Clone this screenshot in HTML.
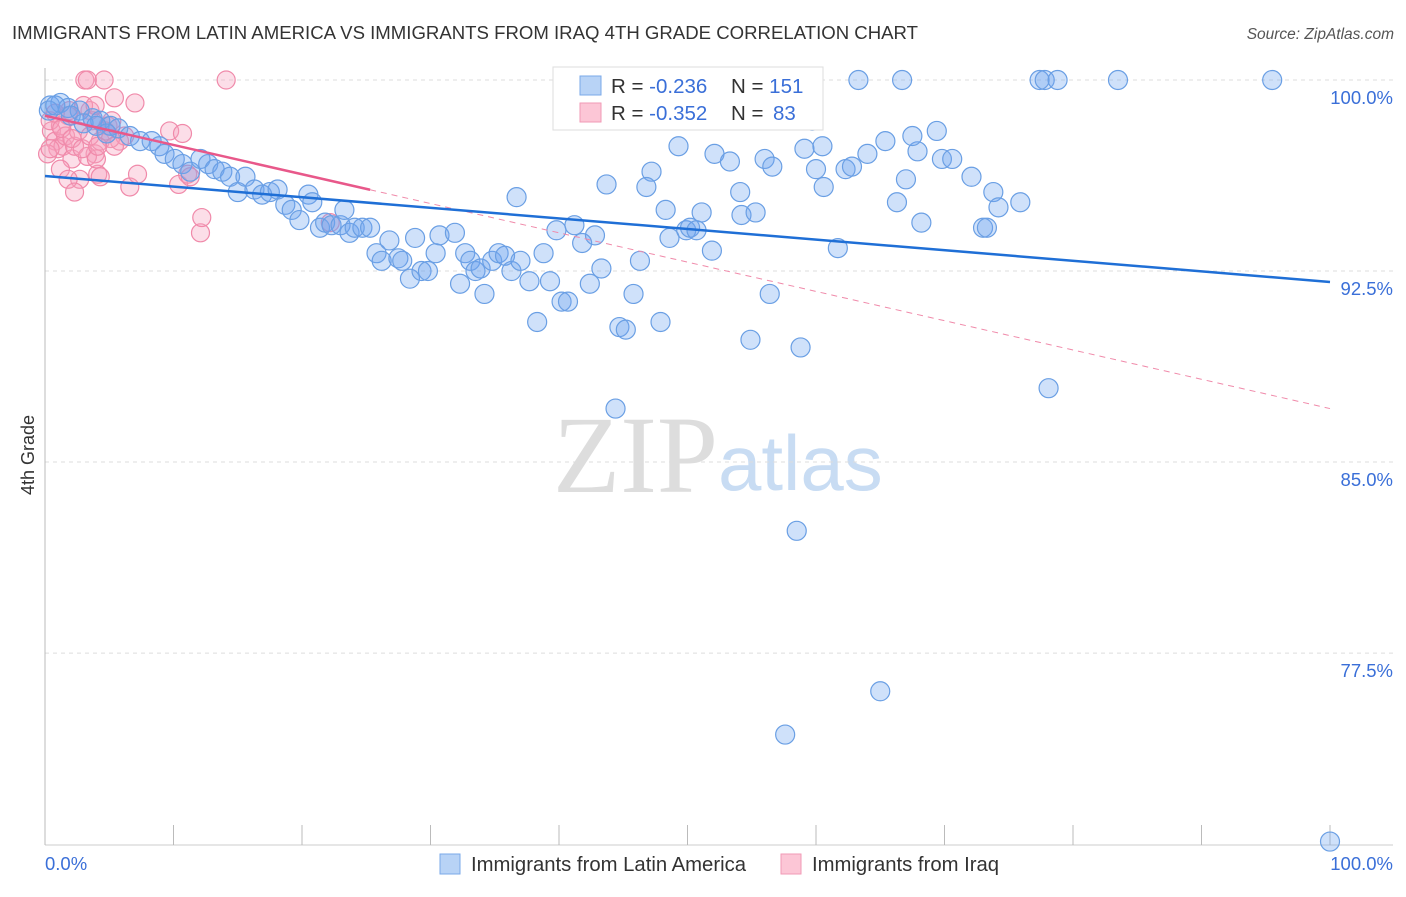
<!DOCTYPE html>
<html><head><meta charset="utf-8"><style>
body{margin:0;background:#fff;font-family:"Liberation Sans",sans-serif;}
</style></head><body>
<svg width="1406" height="892" xmlns="http://www.w3.org/2000/svg" style="font-family:'Liberation Sans',sans-serif">
<text x="12" y="39" font-size="18.6" fill="#333">IMMIGRANTS FROM LATIN AMERICA VS IMMIGRANTS FROM IRAQ 4TH GRADE CORRELATION CHART</text>
<text x="1394" y="39" font-size="15.5" fill="#555" font-style="italic" text-anchor="end">Source: ZipAtlas.com</text>
<g>
<text x="553" y="492" font-size="110" fill="#ddd" font-family="Liberation Serif, serif">ZIP</text>
<text x="718" y="490" font-size="78" fill="#c8dcf3">atlas</text>
</g>
<g id="grid"></g>
<line x1="45" y1="68" x2="45" y2="845" stroke="#bbb"/>
<line x1="45" y1="845" x2="1393" y2="845" stroke="#ccc"/>
<g id="ticks"></g>
<text transform="translate(34,455) rotate(-90)" font-size="18" fill="#333" text-anchor="middle">4th Grade</text>
<text x="45" y="870" font-size="18.5" fill="#3a6fd8">0.0%</text>
<text x="1393" y="870" font-size="18.5" fill="#3a6fd8" text-anchor="end">100.0%</text>
<g id="pts"></g>
<g id="trends"></g>
<g>
<rect x="553" y="67" width="270" height="63" fill="#fff" stroke="#ddd"/>
<rect x="580" y="76" width="21" height="19" fill="#b8d3f6" stroke="#7aa8e8"/>
<rect x="580" y="103" width="21" height="19" fill="#fcc6d6" stroke="#f19ab6"/>
<text x="611" y="93" font-size="20.5" fill="#333">R = <tspan fill="#3a6fd8">-0.236</tspan><tspan x="731">N = </tspan><tspan fill="#3a6fd8">151</tspan></text>
<text x="611" y="120" font-size="20.5" fill="#333">R = <tspan fill="#3a6fd8">-0.352</tspan><tspan x="731">N = </tspan><tspan fill="#3a6fd8" x="773">83</tspan></text>
</g>
<g>
<rect x="440" y="854" width="20" height="20" fill="#b8d3f6" stroke="#7aa8e8"/>
<text x="471" y="871" font-size="20.3" fill="#333">Immigrants from Latin America</text>
<rect x="781" y="854" width="20" height="20" fill="#fcc6d6" stroke="#f19ab6"/>
<text x="812" y="871" font-size="20.3" fill="#333">Immigrants from Iraq</text>
</g>
</svg>
<script>
const yTicks=[100,92.5,85,77.5];
const yTickLabels=["100.0%","92.5%","85.0%","77.5%"];
const blueX=[0.4,1.2,1.8,2.7,3.7,4.3,5.1,5.7,6.6,7.4,8.3,8.9,9.3,10.1,10.7,11.3,12.1,12.7,13.2,13.8,14.4,15.0,15.6,16.3,16.9,17.5,18.1,18.7,19.2,19.8,20.5,20.8,21.4,21.8,22.3,23.0,23.3,23.7,24.1,24.7,25.3,25.8,26.2,26.8,27.5,27.8,28.4,28.8,29.3,29.8,30.4,30.7,31.9,32.3,32.7,33.1,33.5,33.9,34.2,34.8,35.3,35.8,36.3,36.7,37.0,37.7,38.3,38.8,39.3,39.8,40.2,40.7,41.2,41.8,42.4,42.8,43.3,43.7,44.4,44.7,45.2,45.8,46.3,47.2,46.8,47.9,48.3,48.6,49.3,49.9,50.2,50.7,51.1,51.9,52.1,53.2,53.3,54.1,54.2,54.9,55.3,56.0,56.4,56.6,57.6,58.5,58.8,59.1,59.7,60.0,60.5,60.6,61.7,62.3,62.8,63.3,64.0,65.0,65.4,66.3,66.7,67.9,67.5,68.2,69.4,69.8,70.6,72.1,73.0,73.3,73.8,74.2,75.9,77.4,77.8,78.1,78.8,83.5,95.5,100,67.0,0.3,0.8,2.0,3.0,4.0,4.8];
const blueY=[99.0,99.1,98.9,98.8,98.5,98.4,98.2,98.1,97.8,97.6,97.6,97.4,97.1,96.9,96.7,96.4,96.9,96.7,96.5,96.4,96.2,95.6,96.2,95.7,95.5,95.6,95.7,95.1,94.9,94.5,95.5,95.2,94.2,94.4,94.3,94.3,94.9,94.0,94.2,94.2,94.2,93.2,92.9,93.7,93.0,92.9,92.2,93.8,92.5,92.5,93.2,93.9,94.0,92.0,93.2,92.9,92.5,92.6,91.6,92.9,93.2,93.1,92.5,95.4,92.9,92.1,90.5,93.2,92.1,94.1,91.3,91.3,94.3,93.6,92.0,93.9,92.6,95.9,87.1,90.3,90.2,91.6,92.9,96.4,95.8,90.5,94.9,93.8,97.4,94.1,94.2,94.1,94.8,93.3,97.1,98.5,96.8,95.6,94.7,89.8,94.8,96.9,91.6,96.6,74.3,82.3,89.5,97.3,98.4,96.5,97.4,95.8,93.4,96.5,96.6,100,97.1,76.0,97.6,95.2,100,97.2,97.8,94.4,98.0,96.9,96.9,96.2,94.2,94.2,95.6,95.0,95.2,100,100,87.9,100,100,100,70.1,96.1,98.8,99.0,98.6,98.3,98.2,97.9];
const pinkX=[0.5,0.8,1.0,1.2,1.4,1.6,1.8,2.1,2.3,2.6,2.7,3.1,3.3,3.5,3.7,3.9,4.1,4.3,4.6,4.9,5.2,5.4,5.8,6.2,6.6,7.0,7.2,9.7,10.4,10.7,11.1,12.1,12.2,14.1,22.2,0.2,0.4,1.9,3.0,3.9,4.7,1.2,1.8,2.3,3.3,4.0,4.3,5.1,5.4,0.4,0.8,1.3,2.1,2.9,3.5,4.1,11.3];
const pinkY=[98.0,97.6,97.3,98.2,97.4,97.8,98.6,96.9,97.4,98.0,96.1,100,100,98.8,98.4,97.1,96.3,97.6,100,98.2,98.4,99.3,97.6,97.8,95.8,99.1,96.3,98.0,95.9,97.9,96.3,94.0,94.6,100,94.4,97.1,98.4,98.8,99.0,99.0,98.0,96.5,96.1,95.6,97.0,96.9,96.2,97.7,97.4,97.3,98.7,98.1,97.7,97.3,97.8,97.4,96.2];
const blueTrend=[96.23,92.07];
const pinkTrend=[98.6,87.1];
const pinkSolidEnd=25.3;
const NS="http://www.w3.org/2000/svg";
const X0=45,X1=1330,Y100=80,PPU=25.47;
const sx=v=>X0+(X1-X0)*v/100;
const sy=v=>Y100+(100-v)*PPU;
function mk(tag,attrs,parent){const e=document.createElementNS(NS,tag);for(const k in attrs)e.setAttribute(k,attrs[k]);parent.appendChild(e);return e;}
const grid=document.getElementById('grid');
yTicks.forEach((t,i)=>{
 const l=mk('line',{x1:X0,x2:1393,y1:sy(t),y2:sy(t),stroke:'#ddd','stroke-dasharray':'4,4'},grid);
 
 
 const tx=mk('text',{x:1393,y:sy(t)+24,'font-size':18.5,fill:'#3a6fd8','text-anchor':'end'},grid);
 tx.textContent=yTickLabels[i];
 
 
});
const ticks=document.getElementById('ticks');
for(let k=0;k<=10;k++){
 const l=mk('line',{x1:sx(k*10),x2:sx(k*10),y1:825,y2:845,stroke:'#bbb'},ticks);
 
 
}
const pts=document.getElementById('pts');
pinkX.forEach((x,i)=>{
 const c=mk('circle',{cx:sx(x),cy:sy(pinkY[i]),r:9,fill:'rgba(246,160,190,0.35)',stroke:'#f08aaa','stroke-width':1.2},pts);
 
 
});
blueX.forEach((x,i)=>{
 const c=mk('circle',{cx:sx(x),cy:sy(blueY[i]),r:9.5,fill:'rgba(110,165,240,0.33)',stroke:'#6a9fe4','stroke-width':1.2},pts);
 
 
});
const tr=document.getElementById('trends');
const pv=x=>pinkTrend[0]+(pinkTrend[1]-pinkTrend[0])*x/100;
let d=mk('line',{x1:sx(pinkSolidEnd),y1:sy(pv(pinkSolidEnd)),x2:sx(100),y2:sy(pinkTrend[1]),stroke:'#f08aaa','stroke-width':1,'stroke-dasharray':'6,5'},tr);


let s=mk('line',{x1:sx(0),y1:sy(pinkTrend[0]),x2:sx(pinkSolidEnd),y2:sy(pv(pinkSolidEnd)),stroke:'#e8588a','stroke-width':2.5},tr);


let b=mk('line',{x1:sx(0),y1:sy(blueTrend[0]),x2:sx(100),y2:sy(blueTrend[1]),stroke:'#1f6fd6','stroke-width':2.5},tr);


</script>
</body></html>
